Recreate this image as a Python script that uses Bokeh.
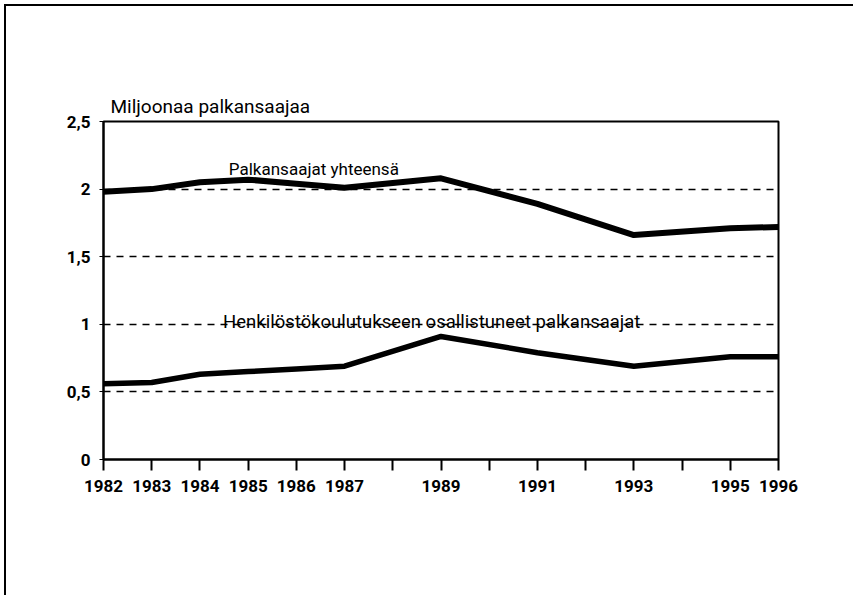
from bokeh.plotting import figure
from bokeh.models import FixedTicker, Label, Range1d
from bokeh.embed import file_html
from bokeh.resources import INLINE

years = [1982, 1983, 1984, 1985, 1986, 1987, 1989, 1991, 1993, 1995, 1996]
total = [1.98, 2.00, 2.05, 2.07, 2.04, 2.01, 2.08, 1.89, 1.66, 1.71, 1.72]
training = [0.56, 0.57, 0.63, 0.65, 0.67, 0.69, 0.91, 0.79, 0.69, 0.76, 0.76]

x_ticks = list(range(1982, 1997))
x_labelled = [1982, 1983, 1984, 1985, 1986, 1987, 1989, 1991, 1993, 1995, 1996]
y_ticks = [0, 0.5, 1, 1.5, 2, 2.5]
y_labels = ["0", "0,5", "1", "1,5", "2", "2,5"]
grid_levels = [0.5, 1, 1.5, 2]

title_text = "Miljoonaa palkansaajaa"
label_total = "Palkansaajat yhteensä"
label_training = "Henkilöstökoulutukseen osallistuneet palkansaajat"

FONT = "Roboto"

p = figure(width=849, height=591, output_backend="svg", toolbar_location=None,
           x_range=Range1d(1982, 1996), y_range=Range1d(0, 2.5),
           min_border_left=97, min_border_top=115, min_border_right=77,
           min_border_bottom=138)
p.styles = {"margin-left": "4px", "margin-top": "4px",
            "border-left": "2px solid black", "border-top": "2px solid black"}

p.background_fill_color = "white"
p.border_fill_color = "white"
p.outline_line_color = "black"
p.outline_line_width = 2

p.title.text = title_text
p.title.align = "left"
p.title.offset = 7
p.title.standoff = 8
p.title.text_font = FONT
p.title.text_font_size = "19px"
p.title.text_font_style = "normal"
p.title.text_color = "black"

# grid
p.xgrid.visible = False
p.ygrid.ticker = FixedTicker(ticks=grid_levels)
p.ygrid.grid_line_color = "black"
p.ygrid.grid_line_width = 1.3
p.ygrid.grid_line_dash = "7 6"

# x axis
p.xaxis.ticker = FixedTicker(ticks=x_ticks)
p.xaxis.major_label_overrides = {y: (str(y) if y in x_labelled else "") for y in x_ticks}
p.xaxis.axis_line_width = 2
p.xaxis.axis_line_color = "black"
p.xaxis.major_tick_line_width = 2
p.xaxis.major_tick_out = 11
p.xaxis.major_tick_in = 0
p.xaxis.minor_tick_line_color = None
p.xaxis.major_label_standoff = 9
p.xaxis.major_label_text_font = FONT
p.xaxis.major_label_text_font_size = "17px"
p.xaxis.major_label_text_font_style = "bold"
p.xaxis.major_label_text_color = "black"

# y axis
p.yaxis.ticker = FixedTicker(ticks=y_ticks)
p.yaxis.major_label_overrides = {t: l for t, l in zip(y_ticks, y_labels)}
p.yaxis.axis_line_width = 2
p.yaxis.axis_line_color = "black"
p.yaxis.major_tick_line_width = 1
p.yaxis.major_tick_out = 4
p.yaxis.major_tick_in = 0
p.yaxis.minor_tick_line_color = None
p.yaxis.major_label_standoff = 9
p.yaxis.major_label_text_font = FONT
p.yaxis.major_label_text_font_size = "17px"
p.yaxis.major_label_text_font_style = "bold"
p.yaxis.major_label_text_color = "black"

p.line(years, total, line_color="black", line_width=6, line_join="round")
p.line(years, training, line_color="black", line_width=5.5, line_join="round")

p.add_layout(Label(x=1984.6, y=2.15, text=label_total, text_font=FONT,
                   text_font_size="17px", text_font_style="normal",
                   text_baseline="alphabetic", text_color="black"))
p.add_layout(Label(x=1984.48, y=1.02, text=label_training, text_font=FONT,
                   text_font_size="18.5px", text_font_style="normal",
                   text_baseline="alphabetic", text_color="black"))

open("out.html", "w").write(file_html(p, INLINE))
